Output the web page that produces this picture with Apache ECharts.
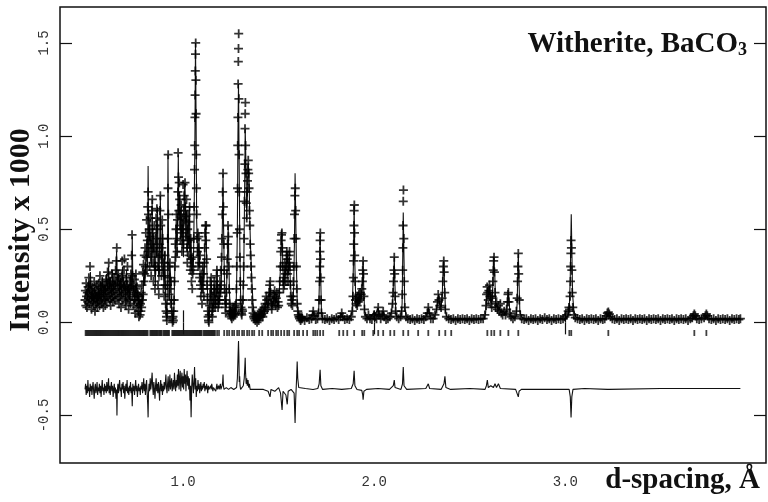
<!DOCTYPE html>
<html><head><meta charset="utf-8">
<script src="https://cdn.jsdelivr.net/npm/echarts@6/dist/echarts.min.js"></script>
<style>html,body{margin:0;padding:0;background:#fff}#c{width:768px;height:502px}</style>
</head><body><div id="c"></div>
<script>
const xTicks = [1.0, 2.0, 3.0];
const yTicks = [-0.5, 0.0, 0.5, 1.0, 1.5];
const titleText = 'Witherite, BaCO';
const titleSub = '3';
const xTitle = 'd-spacing, Å';
const yTitle = 'Intensity x 1000';

// calculated profile [d, I/1000]
const calc = [
[0.487,0.14],[0.495,0.18],[0.500,0.12],[0.505,0.22],[0.510,0.15],[0.515,0.27],[0.520,0.13],[0.526,0.17],[0.531,0.11],[0.536,0.19],[0.542,0.14],[0.547,0.16],[0.552,0.10],[0.557,0.18],[0.563,0.13],[0.568,0.22],[0.573,0.15],[0.578,0.24],[0.584,0.14],[0.589,0.20],[0.594,0.16],[0.599,0.26],[0.605,0.17],[0.610,0.30],[0.615,0.18],[0.620,0.24],[0.626,0.15],[0.631,0.28],[0.636,0.17],[0.641,0.22],[0.647,0.19],[0.652,0.38],[0.657,0.20],[0.662,0.26],[0.668,0.16],[0.673,0.24],[0.678,0.14],[0.683,0.30],[0.689,0.18],[0.694,0.22],[0.699,0.12],[0.704,0.28],[0.710,0.15],[0.715,0.20],[0.720,0.12],[0.725,0.25],[0.731,0.18],[0.734,0.46],[0.738,0.16],[0.743,0.20],[0.748,0.10],[0.754,0.24],[0.759,0.13],[0.764,0.17],[0.769,0.08],[0.774,0.12],[0.780,0.06],[0.785,0.15],[0.790,0.10],[0.795,0.28],[0.800,0.20],[0.806,0.35],[0.810,0.45],[0.814,0.30],[0.817,0.84],[0.821,0.35],[0.826,0.55],[0.830,0.40],[0.835,0.30],[0.838,0.66],[0.842,0.35],[0.847,0.48],[0.851,0.30],[0.855,0.20],[0.859,0.55],[0.862,0.35],[0.866,0.62],[0.870,0.30],[0.874,0.22],[0.878,0.45],[0.881,0.68],[0.885,0.35],[0.889,0.28],[0.892,0.52],[0.896,0.30],[0.900,0.18],[0.904,0.38],[0.908,0.15],[0.912,0.05],[0.916,0.02],[0.919,0.40],[0.921,0.90],[0.924,0.40],[0.928,0.12],[0.932,0.30],[0.936,0.22],[0.940,0.08],[0.944,0.03],[0.948,0.01],[0.952,0.08],[0.956,0.25],[0.960,0.40],[0.964,0.55],[0.968,0.35],[0.972,0.60],[0.975,0.90],[0.978,0.55],[0.982,0.70],[0.986,0.45],[0.990,0.62],[0.994,0.40],[0.998,0.55],[1.002,0.35],[1.006,0.70],[1.010,0.75],[1.014,0.45],[1.018,0.60],[1.022,0.35],[1.026,0.55],[1.030,0.40],[1.034,0.62],[1.038,0.30],[1.042,0.45],[1.046,0.25],[1.050,0.35],[1.054,0.30],[1.058,0.60],[1.062,1.00],[1.065,1.50],[1.068,1.10],[1.071,0.55],[1.075,0.40],[1.079,0.30],[1.083,0.45],[1.087,0.30],[1.091,0.20],[1.095,0.25],[1.099,0.15],[1.104,0.30],[1.108,0.20],[1.112,0.30],[1.116,0.50],[1.120,0.52],[1.124,0.30],[1.128,0.15],[1.132,0.06],[1.136,0.02],[1.140,0.08],[1.144,0.15],[1.148,0.22],[1.152,0.10],[1.156,0.05],[1.160,0.10],[1.165,0.20],[1.170,0.10],[1.175,0.15],[1.178,0.28],[1.182,0.15],[1.186,0.10],[1.190,0.12],[1.194,0.20],[1.198,0.15],[1.202,0.30],[1.206,0.55],[1.209,0.80],[1.212,0.50],[1.216,0.25],[1.220,0.12],[1.224,0.08],[1.228,0.20],[1.232,0.35],[1.236,0.52],[1.239,0.35],[1.243,0.15],[1.247,0.08],[1.251,0.05],[1.255,0.04],[1.259,0.06],[1.263,0.05],[1.267,0.04],[1.272,0.08],[1.277,0.06],[1.280,0.20],[1.284,0.50],[1.287,1.00],[1.290,1.28],[1.293,0.90],[1.297,0.40],[1.301,0.15],[1.305,0.06],[1.309,0.05],[1.313,0.10],[1.317,0.25],[1.321,0.60],[1.325,1.04],[1.329,0.85],[1.333,0.55],[1.337,0.70],[1.341,0.85],[1.345,0.80],[1.349,0.55],[1.353,0.40],[1.357,0.30],[1.361,0.20],[1.366,0.10],[1.372,0.05],[1.378,0.04],[1.382,0.02],[1.390,0.01],[1.398,0.02],[1.405,0.04],[1.412,0.05],[1.420,0.03],[1.427,0.06],[1.432,0.10],[1.437,0.12],[1.441,0.08],[1.447,0.10],[1.452,0.15],[1.456,0.20],[1.460,0.12],[1.465,0.08],[1.470,0.10],[1.475,0.12],[1.480,0.15],[1.485,0.10],[1.490,0.14],[1.495,0.08],[1.500,0.10],[1.505,0.20],[1.510,0.30],[1.514,0.45],[1.518,0.48],[1.522,0.30],[1.526,0.20],[1.530,0.22],[1.534,0.30],[1.538,0.25],[1.542,0.35],[1.545,0.38],[1.549,0.25],[1.553,0.30],[1.557,0.35],[1.561,0.22],[1.565,0.15],[1.570,0.12],[1.575,0.10],[1.579,0.20],[1.583,0.45],[1.586,0.80],[1.589,0.60],[1.593,0.30],[1.597,0.12],[1.602,0.05],[1.608,0.03],[1.615,0.02],[1.625,0.02],[1.635,0.015],[1.645,0.02],[1.655,0.03],[1.665,0.02],[1.675,0.03],[1.681,0.06],[1.687,0.03],[1.696,0.02],[1.705,0.03],[1.710,0.08],[1.714,0.25],[1.717,0.48],[1.720,0.25],[1.724,0.06],[1.730,0.02],[1.745,0.015],[1.760,0.015],[1.775,0.015],[1.790,0.02],[1.805,0.015],[1.820,0.03],[1.828,0.05],[1.834,0.03],[1.845,0.015],[1.860,0.02],[1.875,0.03],[1.885,0.06],[1.891,0.30],[1.895,0.63],[1.899,0.30],[1.904,0.10],[1.910,0.08],[1.915,0.12],[1.920,0.10],[1.925,0.14],[1.930,0.12],[1.935,0.15],[1.938,0.20],[1.942,0.33],[1.946,0.15],[1.950,0.06],[1.958,0.03],[1.966,0.04],[1.975,0.02],[1.985,0.02],[1.995,0.05],[2.001,0.03],[2.010,0.02],[2.021,0.08],[2.027,0.03],[2.040,0.03],[2.047,0.06],[2.053,0.03],[2.065,0.02],[2.080,0.03],[2.090,0.05],[2.097,0.12],[2.102,0.25],[2.105,0.35],[2.108,0.22],[2.113,0.05],[2.120,0.03],[2.130,0.02],[2.140,0.03],[2.146,0.10],[2.150,0.40],[2.152,0.59],[2.155,0.40],[2.160,0.08],[2.168,0.03],[2.180,0.02],[2.195,0.015],[2.210,0.02],[2.225,0.015],[2.240,0.02],[2.255,0.02],[2.270,0.03],[2.278,0.05],[2.283,0.08],[2.288,0.05],[2.300,0.02],[2.315,0.03],[2.325,0.06],[2.333,0.12],[2.337,0.15],[2.342,0.10],[2.350,0.08],[2.356,0.15],[2.361,0.30],[2.364,0.33],[2.368,0.20],[2.373,0.06],[2.380,0.03],[2.395,0.02],[2.410,0.018],[2.450,0.018],[2.500,0.018],[2.550,0.018],[2.575,0.02],[2.583,0.05],[2.590,0.15],[2.594,0.19],[2.600,0.14],[2.605,0.20],[2.610,0.12],[2.615,0.10],[2.621,0.20],[2.626,0.35],[2.631,0.25],[2.636,0.08],[2.642,0.10],[2.648,0.06],[2.655,0.08],[2.662,0.05],[2.670,0.04],[2.678,0.06],[2.685,0.04],[2.693,0.06],[2.698,0.12],[2.702,0.16],[2.706,0.10],[2.712,0.04],[2.720,0.03],[2.730,0.02],[2.742,0.03],[2.748,0.10],[2.752,0.30],[2.754,0.37],[2.757,0.25],[2.762,0.06],[2.770,0.03],[2.790,0.018],[2.850,0.018],[2.900,0.018],[2.950,0.018],[3.005,0.02],[3.015,0.04],[3.021,0.08],[3.026,0.25],[3.029,0.45],[3.031,0.58],[3.034,0.40],[3.038,0.15],[3.045,0.06],[3.055,0.03],[3.070,0.02],[3.150,0.018],[3.210,0.02],[3.218,0.04],[3.225,0.05],[3.232,0.04],[3.245,0.02],[3.400,0.018],[3.600,0.018],[3.665,0.02],[3.672,0.04],[3.677,0.035],[3.690,0.02],[3.730,0.025],[3.738,0.04],[3.745,0.025],[3.760,0.018],[3.916,0.018]
];

// observed points [d, I/1000]
const observed = [
[0.487,0.12],[0.489,0.17],[0.491,0.09],[0.493,0.21],[0.495,0.14],[0.497,0.08],[0.499,0.16],[0.501,0.11],[0.503,0.19],[0.505,0.13],[0.507,0.24],[0.509,0.10],[0.511,0.15],[0.513,0.30],[0.515,0.20],[0.517,0.12],[0.519,0.17],[0.521,0.07],[0.523,0.14],[0.525,0.19],[0.527,0.11],[0.529,0.16],[0.531,0.09],[0.533,0.13],[0.535,0.22],[0.537,0.15],[0.539,0.06],[0.541,0.12],[0.543,0.18],[0.545,0.10],[0.547,0.14],[0.549,0.20],[0.551,0.08],[0.553,0.13],[0.555,0.17],[0.557,0.11],[0.559,0.21],[0.561,0.15],[0.563,0.09],[0.565,0.25],[0.567,0.14],[0.569,0.19],[0.571,0.12],[0.573,0.16],[0.575,0.10],[0.577,0.22],[0.579,0.13],[0.581,0.18],[0.583,0.08],[0.585,0.15],[0.587,0.20],[0.589,0.12],[0.591,0.17],[0.593,0.09],[0.595,0.14],[0.597,0.23],[0.599,0.16],[0.601,0.11],[0.603,0.19],[0.605,0.27],[0.607,0.14],[0.609,0.20],[0.611,0.32],[0.613,0.17],[0.615,0.12],[0.617,0.22],[0.619,0.15],[0.621,0.09],[0.623,0.18],[0.625,0.13],[0.627,0.26],[0.629,0.16],[0.631,0.21],[0.633,0.11],[0.635,0.18],[0.637,0.14],[0.639,0.24],[0.641,0.17],[0.643,0.12],[0.645,0.20],[0.647,0.28],[0.649,0.15],[0.651,0.33],[0.653,0.40],[0.655,0.22],[0.657,0.18],[0.659,0.13],[0.661,0.26],[0.663,0.19],[0.665,0.10],[0.667,0.16],[0.669,0.23],[0.671,0.14],[0.673,0.20],[0.675,0.08],[0.677,0.15],[0.679,0.25],[0.681,0.33],[0.683,0.18],[0.685,0.12],[0.687,0.22],[0.689,0.16],[0.691,0.28],[0.693,0.34],[0.695,0.19],[0.697,0.11],[0.699,0.17],[0.701,0.09],[0.703,0.24],[0.705,0.14],[0.707,0.20],[0.709,0.30],[0.711,0.13],[0.713,0.18],[0.715,0.07],[0.717,0.15],[0.719,0.22],[0.721,0.12],[0.723,0.17],[0.725,0.10],[0.727,0.26],[0.729,0.19],[0.731,0.36],[0.733,0.47],[0.735,0.25],[0.737,0.14],[0.739,0.20],[0.741,0.09],[0.743,0.16],[0.745,0.23],[0.747,0.12],[0.749,0.05],[0.751,0.18],[0.753,0.26],[0.755,0.14],[0.757,0.08],[0.759,0.19],[0.761,0.11],[0.763,0.15],[0.765,0.06],[0.767,0.12],[0.769,0.03],[0.771,0.09],[0.773,0.14],[0.775,0.04],[0.777,0.10],[0.779,0.06],[0.781,0.16],[0.783,0.08],[0.785,0.20],[0.787,0.12],[0.789,0.27],[0.791,0.15],[0.793,0.31],[0.795,0.22],[0.797,0.36],[0.799,0.26],[0.801,0.40],[0.803,0.30],[0.805,0.48],[0.807,0.35],[0.809,0.55],[0.811,0.28],[0.813,0.44],[0.815,0.62],[0.817,0.70],[0.819,0.58],[0.821,0.38],[0.823,0.50],[0.825,0.30],[0.827,0.46],[0.829,0.56],[0.831,0.35],[0.833,0.25],[0.835,0.42],[0.837,0.60],[0.839,0.66],[0.841,0.48],[0.843,0.32],[0.845,0.22],[0.847,0.40],[0.849,0.52],[0.851,0.30],[0.853,0.18],[0.855,0.28],[0.857,0.45],[0.859,0.56],[0.861,0.38],[0.863,0.61],[0.865,0.50],[0.867,0.30],[0.869,0.20],[0.871,0.35],[0.873,0.15],[0.875,0.28],[0.877,0.42],[0.879,0.60],[0.881,0.68],[0.883,0.52],[0.885,0.36],[0.887,0.25],[0.889,0.40],[0.891,0.55],[0.893,0.45],[0.895,0.28],[0.897,0.18],[0.899,0.32],[0.901,0.14],[0.903,0.25],[0.905,0.36],[0.907,0.20],[0.909,0.10],[0.911,0.06],[0.913,0.03],[0.915,0.01],[0.917,0.05],[0.919,0.20],[0.920,0.45],[0.921,0.72],[0.922,0.90],[0.923,0.58],[0.925,0.30],[0.927,0.15],[0.929,0.24],[0.931,0.32],[0.933,0.18],[0.935,0.10],[0.937,0.22],[0.939,0.12],[0.941,0.06],[0.943,0.02],[0.945,0.00],[0.947,0.03],[0.949,0.01],[0.951,0.06],[0.953,0.12],[0.955,0.22],[0.957,0.30],[0.959,0.42],[0.961,0.35],[0.963,0.50],[0.965,0.58],[0.967,0.45],[0.969,0.38],[0.971,0.55],[0.973,0.70],[0.974,0.91],[0.976,0.78],[0.978,0.60],[0.980,0.75],[0.982,0.66],[0.984,0.52],[0.986,0.44],[0.988,0.58],[0.990,0.63],[0.992,0.48],[0.994,0.38],[0.996,0.50],[0.998,0.56],[1.000,0.74],[1.002,0.42],[1.004,0.60],[1.006,0.68],[1.008,0.55],[1.010,0.75],[1.012,0.62],[1.014,0.46],[1.016,0.57],[1.018,0.66],[1.020,0.40],[1.022,0.32],[1.024,0.50],[1.026,0.58],[1.028,0.44],[1.030,0.36],[1.032,0.54],[1.034,0.62],[1.036,0.40],[1.038,0.28],[1.040,0.45],[1.042,0.34],[1.044,0.22],[1.046,0.30],[1.048,0.18],[1.050,0.26],[1.052,0.35],[1.054,0.28],[1.056,0.45],[1.058,0.62],[1.060,0.82],[1.061,0.95],[1.062,1.10],[1.063,1.22],[1.064,1.35],[1.065,1.44],[1.066,1.50],[1.067,1.30],[1.068,1.12],[1.069,0.90],[1.070,0.72],[1.071,0.58],[1.073,0.45],[1.075,0.38],[1.077,0.48],[1.079,0.30],[1.081,0.40],[1.083,0.46],[1.085,0.32],[1.087,0.24],[1.089,0.36],[1.091,0.20],[1.093,0.14],[1.095,0.26],[1.097,0.18],[1.099,0.10],[1.101,0.22],[1.103,0.30],[1.105,0.18],[1.107,0.26],[1.109,0.14],[1.111,0.32],[1.113,0.40],[1.115,0.48],[1.117,0.52],[1.119,0.44],[1.121,0.52],[1.123,0.34],[1.125,0.20],[1.127,0.12],[1.129,0.06],[1.131,0.03],[1.133,0.01],[1.135,0.00],[1.137,0.04],[1.139,0.09],[1.141,0.15],[1.143,0.22],[1.145,0.18],[1.147,0.24],[1.149,0.12],[1.151,0.06],[1.153,0.03],[1.155,0.08],[1.157,0.14],[1.159,0.10],[1.161,0.18],[1.163,0.22],[1.165,0.12],[1.167,0.08],[1.169,0.16],[1.171,0.10],[1.173,0.20],[1.175,0.25],[1.177,0.28],[1.179,0.18],[1.181,0.12],[1.183,0.08],[1.185,0.14],[1.187,0.10],[1.189,0.18],[1.191,0.12],[1.193,0.22],[1.195,0.16],[1.197,0.28],[1.199,0.20],[1.201,0.35],[1.203,0.45],[1.205,0.58],[1.207,0.70],[1.209,0.80],[1.211,0.62],[1.213,0.42],[1.215,0.28],[1.217,0.18],[1.219,0.12],[1.221,0.08],[1.223,0.05],[1.225,0.10],[1.227,0.16],[1.229,0.26],[1.231,0.34],[1.233,0.42],[1.235,0.52],[1.237,0.46],[1.239,0.30],[1.241,0.18],[1.243,0.10],[1.245,0.06],[1.247,0.04],[1.249,0.06],[1.251,0.03],[1.253,0.05],[1.255,0.02],[1.257,0.06],[1.259,0.04],[1.261,0.07],[1.263,0.03],[1.265,0.05],[1.267,0.08],[1.269,0.04],[1.271,0.06],[1.273,0.09],[1.275,0.05],[1.277,0.10],[1.279,0.18],[1.281,0.30],[1.283,0.48],[1.285,0.72],[1.286,0.95],[1.287,1.10],[1.288,1.28],[1.289,1.40],[1.290,1.47],[1.291,1.55],[1.292,1.20],[1.293,0.90],[1.294,0.70],[1.295,0.50],[1.297,0.35],[1.299,0.22],[1.301,0.12],[1.303,0.08],[1.305,0.05],[1.307,0.04],[1.309,0.07],[1.311,0.06],[1.313,0.12],[1.315,0.20],[1.317,0.30],[1.319,0.45],[1.321,0.65],[1.323,0.85],[1.324,1.04],[1.325,1.12],[1.326,1.18],[1.327,0.95],[1.329,0.80],[1.331,0.64],[1.333,0.56],[1.335,0.70],[1.337,0.76],[1.339,0.82],[1.341,0.87],[1.343,0.80],[1.345,0.72],[1.347,0.60],[1.349,0.52],[1.351,0.42],[1.353,0.36],[1.355,0.30],[1.357,0.24],[1.359,0.18],[1.361,0.12],[1.363,0.08],[1.366,0.05],[1.369,0.03],[1.372,0.02],[1.375,0.04],[1.378,0.01],[1.381,0.03],[1.384,0.02],[1.387,0.00],[1.390,0.02],[1.393,0.04],[1.396,0.01],[1.399,0.03],[1.402,0.05],[1.405,0.03],[1.408,0.06],[1.411,0.04],[1.414,0.07],[1.417,0.03],[1.420,0.05],[1.423,0.08],[1.426,0.06],[1.429,0.10],[1.432,0.08],[1.435,0.14],[1.438,0.12],[1.441,0.07],[1.444,0.10],[1.447,0.13],[1.450,0.16],[1.453,0.20],[1.456,0.22],[1.458,0.16],[1.461,0.10],[1.464,0.07],[1.467,0.09],[1.470,0.12],[1.473,0.15],[1.476,0.11],[1.479,0.17],[1.482,0.14],[1.485,0.09],[1.488,0.13],[1.491,0.16],[1.494,0.08],[1.497,0.11],[1.500,0.09],[1.503,0.16],[1.506,0.22],[1.509,0.30],[1.511,0.38],[1.513,0.44],[1.515,0.47],[1.517,0.48],[1.519,0.40],[1.521,0.30],[1.523,0.22],[1.525,0.18],[1.527,0.24],[1.529,0.20],[1.531,0.28],[1.533,0.32],[1.535,0.26],[1.537,0.22],[1.539,0.30],[1.541,0.36],[1.543,0.38],[1.545,0.34],[1.547,0.26],[1.549,0.22],[1.551,0.28],[1.553,0.32],[1.555,0.36],[1.557,0.38],[1.559,0.30],[1.561,0.20],[1.563,0.14],[1.566,0.10],[1.569,0.12],[1.572,0.09],[1.575,0.14],[1.577,0.22],[1.579,0.30],[1.581,0.45],[1.583,0.58],[1.585,0.68],[1.587,0.72],[1.589,0.60],[1.591,0.45],[1.593,0.30],[1.595,0.18],[1.597,0.10],[1.600,0.06],[1.603,0.04],[1.606,0.03],[1.609,0.02],[1.612,0.03],[1.615,0.01],[1.618,0.02],[1.621,0.03],
[1.624,0.02],[1.636,0.01],[1.648,0.025],[1.660,0.015],[1.672,0.02],[1.678,0.04],[1.681,0.06],[1.685,0.035],[1.694,0.015],[1.703,0.02],[1.709,0.05],[1.712,0.12],[1.714,0.22],[1.715,0.30],[1.716,0.38],[1.717,0.44],[1.718,0.48],[1.719,0.34],[1.720,0.24],[1.722,0.12],[1.724,0.05],[1.730,0.02],[1.742,0.015],[1.754,0.02],[1.766,0.01],[1.778,0.02],[1.790,0.015],[1.802,0.025],[1.814,0.015],[1.824,0.03],[1.830,0.05],[1.836,0.03],[1.846,0.015],[1.858,0.02],[1.870,0.015],[1.880,0.03],[1.886,0.06],[1.889,0.14],[1.891,0.24],[1.892,0.33],[1.893,0.42],[1.894,0.52],[1.895,0.60],[1.896,0.63],[1.897,0.48],[1.898,0.36],[1.900,0.22],[1.902,0.12],[1.905,0.10],[1.908,0.13],[1.911,0.09],[1.914,0.14],[1.917,0.11],[1.920,0.15],[1.923,0.12],[1.926,0.16],[1.929,0.13],[1.932,0.15],[1.935,0.18],[1.938,0.22],[1.940,0.28],[1.942,0.33],[1.944,0.26],[1.946,0.14],[1.949,0.07],[1.954,0.03],[1.962,0.02],[1.970,0.04],[1.978,0.02],[1.988,0.015],[1.998,0.04],[2.004,0.03],[2.012,0.02],[2.018,0.05],[2.021,0.08],[2.025,0.04],[2.034,0.02],[2.043,0.04],[2.047,0.06],[2.052,0.03],[2.062,0.015],[2.072,0.02],[2.082,0.03],[2.090,0.05],[2.096,0.10],[2.099,0.16],[2.101,0.22],[2.103,0.28],[2.105,0.35],[2.107,0.26],[2.109,0.14],[2.112,0.06],[2.118,0.03],[2.128,0.02],[2.138,0.03],[2.144,0.06],[2.147,0.15],[2.149,0.28],[2.150,0.40],[2.151,0.52],[2.152,0.65],[2.153,0.71],[2.155,0.45],[2.157,0.22],[2.160,0.08],[2.166,0.03],[2.176,0.02],[2.188,0.015],[2.200,0.02],[2.212,0.01],[2.224,0.02],[2.236,0.015],[2.248,0.02],[2.260,0.015],[2.270,0.03],[2.278,0.05],[2.283,0.08],[2.288,0.05],[2.296,0.02],[2.308,0.02],[2.318,0.04],[2.326,0.07],[2.331,0.11],[2.335,0.15],[2.339,0.12],[2.344,0.09],[2.350,0.08],[2.355,0.13],[2.359,0.22],[2.362,0.30],[2.364,0.33],[2.366,0.27],[2.369,0.16],[2.372,0.07],[2.378,0.03],[2.390,0.02],[2.402,0.015],[2.414,0.02],[2.426,0.01],[2.438,0.02],[2.450,0.015],[2.462,0.02],[2.474,0.015],[2.486,0.02],[2.498,0.01],[2.510,0.02],[2.522,0.015],[2.534,0.02],[2.546,0.015],[2.558,0.02],[2.570,0.02],[2.579,0.04],[2.585,0.09],[2.588,0.15],[2.591,0.19],[2.594,0.16],[2.597,0.12],[2.600,0.17],[2.603,0.20],[2.606,0.14],[2.609,0.10],[2.612,0.13],[2.615,0.08],[2.618,0.14],[2.621,0.22],[2.623,0.28],[2.625,0.33],[2.627,0.35],[2.629,0.27],[2.632,0.16],[2.635,0.08],[2.640,0.11],[2.645,0.07],[2.650,0.09],[2.655,0.06],[2.660,0.10],[2.665,0.05],[2.672,0.04],[2.680,0.06],[2.687,0.04],[2.693,0.07],[2.697,0.11],[2.700,0.15],[2.702,0.16],[2.705,0.11],[2.709,0.05],[2.716,0.03],[2.726,0.02],[2.736,0.03],[2.744,0.06],[2.748,0.13],[2.750,0.22],[2.752,0.30],[2.754,0.37],[2.756,0.26],[2.759,0.12],[2.764,0.04],[2.772,0.02],[2.784,0.015],[2.796,0.02],[2.808,0.01],[2.820,0.02],[2.832,0.015],[2.844,0.02],[2.856,0.01],[2.868,0.02],[2.880,0.015],[2.892,0.025],[2.904,0.015],[2.916,0.02],[2.928,0.01],[2.940,0.02],[2.952,0.015],[2.964,0.02],[2.976,0.015],[2.988,0.02],[2.998,0.03],[3.008,0.04],[3.015,0.06],[3.019,0.08],[3.022,0.07],[3.025,0.14],[3.027,0.22],[3.028,0.30],[3.029,0.37],[3.030,0.44],[3.032,0.40],[3.034,0.28],[3.036,0.16],[3.039,0.08],[3.044,0.04],[3.052,0.025],[3.064,0.02],[3.076,0.015],[3.088,0.02],[3.100,0.01],[3.112,0.02],[3.124,0.015],[3.136,0.02],[3.148,0.015],[3.160,0.02],[3.172,0.01],[3.184,0.02],[3.196,0.015],[3.206,0.02],[3.214,0.035],[3.220,0.05],[3.225,0.055],[3.230,0.045],[3.236,0.03],[3.246,0.02],[3.258,0.015],[3.270,0.02],[3.282,0.01],[3.294,0.02],[3.306,0.015],[3.318,0.02],[3.330,0.015],[3.342,0.02],[3.354,0.01],[3.366,0.02],[3.378,0.015],[3.390,0.02],[3.402,0.015],[3.414,0.02],[3.426,0.01],[3.438,0.02],[3.450,0.015],[3.462,0.02],[3.474,0.015],[3.486,0.02],[3.498,0.01],[3.510,0.02],[3.522,0.015],[3.534,0.02],[3.546,0.015],[3.558,0.02],[3.570,0.01],[3.582,0.02],[3.594,0.015],[3.606,0.02],[3.618,0.015],[3.630,0.02],[3.642,0.01],[3.654,0.02],[3.664,0.025],[3.670,0.035],[3.675,0.045],[3.680,0.035],[3.688,0.02],[3.700,0.015],[3.712,0.02],[3.726,0.025],[3.733,0.035],[3.738,0.045],[3.743,0.035],[3.752,0.02],[3.764,0.015],[3.776,0.02],[3.788,0.01],[3.800,0.02],[3.812,0.015],[3.824,0.02],[3.836,0.015],[3.848,0.02],[3.860,0.01],[3.872,0.02],[3.884,0.015],[3.896,0.02],[3.908,0.015],[3.916,0.02]
];

// difference curve as plotted (offset below the pattern)
const difference = [
[0.487,-0.36],[0.490,-0.33],[0.493,-0.39],[0.496,-0.34],[0.499,-0.38],[0.502,-0.31],[0.505,-0.37],[0.508,-0.35],[0.511,-0.40],[0.514,-0.33],[0.517,-0.37],[0.520,-0.34],[0.523,-0.39],[0.526,-0.35],[0.529,-0.32],[0.532,-0.37],[0.535,-0.41],[0.538,-0.35],[0.541,-0.33],[0.544,-0.38],[0.547,-0.36],[0.550,-0.32],[0.553,-0.39],[0.556,-0.35],[0.559,-0.37],[0.562,-0.33],[0.565,-0.38],[0.568,-0.34],[0.571,-0.40],[0.574,-0.35],[0.577,-0.31],[0.580,-0.37],[0.583,-0.35],[0.586,-0.39],[0.589,-0.33],[0.592,-0.37],[0.595,-0.34],[0.598,-0.38],[0.601,-0.32],[0.604,-0.37],[0.607,-0.35],[0.610,-0.30],[0.613,-0.38],[0.616,-0.34],[0.619,-0.39],[0.622,-0.35],[0.625,-0.32],[0.628,-0.37],[0.631,-0.34],[0.634,-0.40],[0.637,-0.36],[0.640,-0.33],[0.643,-0.38],[0.646,-0.35],[0.649,-0.41],[0.652,-0.36],[0.654,-0.50],[0.656,-0.37],[0.659,-0.33],[0.662,-0.38],[0.665,-0.34],[0.668,-0.31],[0.671,-0.37],[0.674,-0.35],[0.677,-0.40],[0.680,-0.33],[0.683,-0.36],[0.686,-0.32],[0.689,-0.38],[0.692,-0.34],[0.695,-0.41],[0.698,-0.36],[0.701,-0.33],[0.704,-0.37],[0.707,-0.31],[0.710,-0.38],[0.713,-0.35],[0.716,-0.39],[0.719,-0.34],[0.722,-0.37],[0.725,-0.32],[0.728,-0.38],[0.731,-0.35],[0.734,-0.45],[0.737,-0.33],[0.740,-0.37],[0.743,-0.34],[0.746,-0.39],[0.749,-0.35],[0.752,-0.31],[0.755,-0.37],[0.758,-0.34],[0.761,-0.40],[0.764,-0.36],[0.767,-0.33],[0.770,-0.37],[0.773,-0.35],[0.776,-0.39],[0.779,-0.34],[0.782,-0.36],[0.785,-0.32],[0.788,-0.38],[0.791,-0.35],[0.794,-0.30],[0.797,-0.37],[0.800,-0.33],[0.803,-0.39],[0.806,-0.34],[0.809,-0.31],[0.812,-0.38],[0.815,-0.44],[0.817,-0.51],[0.819,-0.38],[0.822,-0.33],[0.825,-0.37],[0.828,-0.30],[0.831,-0.36],[0.834,-0.33],[0.838,-0.27],[0.841,-0.35],[0.844,-0.39],[0.847,-0.32],[0.850,-0.36],[0.853,-0.41],[0.856,-0.34],[0.859,-0.30],[0.862,-0.37],[0.865,-0.33],[0.868,-0.38],[0.871,-0.32],[0.874,-0.36],[0.877,-0.42],[0.880,-0.34],[0.883,-0.31],[0.886,-0.37],[0.889,-0.33],[0.892,-0.39],[0.895,-0.34],[0.898,-0.37],[0.901,-0.32],[0.904,-0.36],[0.907,-0.33],[0.910,-0.28],[0.913,-0.35],[0.916,-0.38],[0.919,-0.33],[0.922,-0.29],[0.925,-0.37],[0.928,-0.34],[0.931,-0.28],[0.934,-0.36],[0.937,-0.33],[0.940,-0.30],[0.943,-0.37],[0.946,-0.34],[0.949,-0.31],[0.952,-0.36],[0.955,-0.27],[0.958,-0.33],[0.961,-0.37],[0.964,-0.31],[0.967,-0.35],[0.970,-0.28],[0.973,-0.34],[0.976,-0.25],[0.979,-0.36],[0.982,-0.30],[0.985,-0.26],[0.988,-0.37],[0.991,-0.31],[0.994,-0.27],[0.997,-0.35],[1.000,-0.29],[1.003,-0.36],[1.006,-0.25],[1.009,-0.33],[1.012,-0.28],[1.015,-0.37],[1.018,-0.30],[1.021,-0.26],[1.024,-0.34],[1.027,-0.29],[1.030,-0.36],[1.033,-0.30],[1.036,-0.42],[1.039,-0.34],[1.042,-0.51],[1.045,-0.35],[1.048,-0.28],[1.051,-0.33],[1.054,-0.38],[1.057,-0.32],[1.060,-0.24],[1.063,-0.36],[1.066,-0.30],[1.069,-0.40],[1.072,-0.34],[1.075,-0.37],[1.078,-0.31],[1.081,-0.36],[1.084,-0.33],[1.087,-0.38],[1.090,-0.35],[1.093,-0.32],[1.096,-0.37],[1.099,-0.34],[1.102,-0.36],[1.105,-0.33],[1.108,-0.35],[1.111,-0.32],[1.114,-0.37],[1.117,-0.34],[1.120,-0.36],[1.123,-0.33],[1.126,-0.35],[1.129,-0.38],[1.132,-0.34],[1.135,-0.36],[1.138,-0.35],[1.141,-0.37],[1.144,-0.34],[1.147,-0.36],[1.150,-0.33],[1.153,-0.35],[1.156,-0.37],[1.159,-0.35],[1.162,-0.34],[1.165,-0.36],[1.168,-0.35],[1.171,-0.37],[1.174,-0.35],[1.177,-0.33],[1.180,-0.36],[1.183,-0.35],[1.186,-0.34],[1.189,-0.36],[1.192,-0.35],[1.195,-0.33],[1.198,-0.36],[1.201,-0.35],[1.204,-0.34],[1.207,-0.32],[1.209,-0.28],[1.211,-0.34],[1.214,-0.36],[1.218,-0.35],[1.222,-0.36],[1.226,-0.35],[1.230,-0.34],[1.234,-0.35],[1.238,-0.36],[1.242,-0.35],[1.246,-0.36],[1.250,-0.35],[1.255,-0.36],[1.260,-0.35],[1.265,-0.36],[1.270,-0.35],[1.275,-0.36],[1.280,-0.35],[1.284,-0.30],[1.287,-0.20],[1.290,-0.10],[1.292,-0.18],[1.294,-0.32],[1.296,-0.29],[1.298,-0.34],[1.301,-0.36],[1.305,-0.35],[1.310,-0.36],[1.315,-0.34],[1.320,-0.30],[1.323,-0.24],[1.325,-0.19],[1.327,-0.27],[1.330,-0.33],[1.333,-0.30],[1.336,-0.34],[1.340,-0.31],[1.343,-0.35],[1.347,-0.33],[1.351,-0.36],[1.356,-0.35],[1.362,-0.36],[1.370,-0.35],[1.380,-0.36],[1.390,-0.35],[1.400,-0.36],[1.410,-0.355],[1.420,-0.36],[1.430,-0.35],[1.445,-0.37],[1.455,-0.40],[1.460,-0.36],[1.470,-0.35],[1.480,-0.37],[1.490,-0.36],[1.500,-0.35],[1.510,-0.38],[1.518,-0.47],[1.523,-0.37],[1.530,-0.36],[1.538,-0.39],[1.545,-0.44],[1.550,-0.37],[1.558,-0.38],[1.565,-0.36],[1.575,-0.35],[1.581,-0.38],[1.586,-0.54],[1.589,-0.42],[1.594,-0.30],[1.597,-0.21],[1.600,-0.30],[1.605,-0.35],[1.615,-0.36],[1.640,-0.355],[1.680,-0.36],[1.705,-0.355],[1.712,-0.33],[1.717,-0.255],[1.721,-0.34],[1.730,-0.36],[1.780,-0.355],[1.830,-0.36],[1.880,-0.355],[1.890,-0.33],[1.895,-0.26],[1.899,-0.34],[1.910,-0.36],[1.935,-0.365],[1.940,-0.39],[1.942,-0.415],[1.946,-0.37],[1.960,-0.36],[2.020,-0.355],[2.080,-0.36],[2.100,-0.34],[2.105,-0.31],[2.109,-0.35],[2.140,-0.36],[2.148,-0.33],[2.152,-0.24],[2.156,-0.34],[2.170,-0.36],[2.270,-0.355],[2.283,-0.33],[2.290,-0.355],[2.350,-0.36],[2.365,-0.33],[2.370,-0.29],[2.375,-0.35],[2.400,-0.36],[2.500,-0.355],[2.580,-0.36],[2.587,-0.34],[2.592,-0.31],[2.597,-0.35],[2.610,-0.34],[2.618,-0.33],[2.624,-0.35],[2.632,-0.33],[2.640,-0.35],[2.650,-0.33],[2.660,-0.355],[2.740,-0.36],[2.750,-0.37],[2.754,-0.40],[2.758,-0.37],[2.770,-0.36],[2.900,-0.36],[3.020,-0.36],[3.026,-0.40],[3.030,-0.51],[3.034,-0.40],[3.040,-0.36],[3.100,-0.355],[3.220,-0.36],[3.225,-0.37],[3.232,-0.36],[3.500,-0.355],[3.916,-0.355]
];

// reflection positions (d)
const reflections = [
0.490,0.495,0.500,0.505,0.510,0.515,0.520,0.525,0.530,0.535,0.540,0.545,0.550,0.555,0.560,0.565,0.570,0.575,0.580,0.585,0.590,0.595,0.600,0.605,0.610,0.615,0.620,0.625,0.630,0.635,0.640,0.645,0.650,0.655,0.660,0.665,0.670,0.675,0.680,0.685,0.690,0.695,0.700,0.705,0.710,0.715,0.720,0.725,0.730,0.735,0.740,0.745,0.750,0.755,0.760,0.765,0.770,0.775,0.780,0.785,0.790,0.795,0.800,0.805,0.810,0.815,
0.828,0.833,0.838,0.843,0.848,0.853,0.858,0.863,0.868,0.874,0.879,0.884,0.888,
0.897,0.902,0.907,0.912,0.917,0.922,0.927,
0.943,0.948,0.953,0.958,0.963,0.968,0.973,0.978,0.983,0.988,0.993,0.998,1.003,1.008,1.013,1.018,1.023,1.028,1.033,1.038,1.043,1.048,1.053,1.058,1.063,1.068,1.073,1.078,1.083,1.088,1.093,1.097,
1.107,1.112,1.117,1.122,1.127,1.132,1.137,1.142,1.147,1.152,1.157,1.162,1.167,
1.178,1.188,1.215,1.230,1.241,1.257,1.267,1.283,1.293,1.309,1.319,1.335,1.346,1.361,1.372,1.398,1.414,1.445,1.461,1.471,1.487,1.497,1.513,1.529,1.545,1.555,1.581,1.597,1.607,1.628,1.649,1.681,1.691,1.702,1.717,1.733,1.817,1.838,1.859,1.895,1.937,1.948,1.995,2.021,2.047,2.084,2.105,2.152,2.178,2.230,2.283,2.340,2.372,2.403,2.592,2.613,2.628,2.660,2.702,2.754,3.021,3.031,3.225,3.675,3.738
];
const reflectionLevel = -0.057;

const chart = echarts.init(document.getElementById('c'), null, {renderer: 'canvas'});
const mono = '"Liberation Mono", "DejaVu Sans Mono", monospace';
const serif = '"Liberation Serif", "DejaVu Serif", serif';
const plus = 'path://M4,0H6V4H10V6H6V10H4V6H0V4H4Z';

chart.setOption({
  animation: false,
  backgroundColor: '#ffffff',
  grid: {left: 60, right: 2, top: 7, bottom: 39, show: true, borderColor: '#111', borderWidth: 1.5, backgroundColor: 'transparent'},
  title: {
    text: '{a|' + titleText + '}{b|' + titleSub + '}',
    right: 16, top: 25,
    textStyle: {rich: {
      a: {fontFamily: serif, fontWeight: 'bold', fontSize: 29, color: '#111'},
      b: {fontFamily: serif, fontWeight: 'bold', fontSize: 18, color: '#111', verticalAlign: 'bottom', padding: [9,0,0,0]}
    }}
  },
  graphic: [
    {type: 'text', x: 760, y: 481, style: {text: xTitle, font: 'bold 29px ' + serif, fill: '#111', align: 'right', verticalAlign: 'middle', textAlign: 'right', textVerticalAlign: 'middle'}},
    {type: 'text', x: 21, y: 230, rotation: Math.PI / 2, style: {text: yTitle, font: 'bold 30px ' + serif, fill: '#111', align: 'center', verticalAlign: 'middle', textAlign: 'center', textVerticalAlign: 'middle'}}
  ],
  xAxis: [
    {type: 'value', min: 0.356, max: 4.05, position: 'bottom',
     axisLine: {show: false}, splitLine: {show: false},
     axisTick: {show: true, inside: true, length: 12, customValues: xTicks, lineStyle: {color: '#111', width: 1.2}},
     axisLabel: {show: true, customValues: xTicks, formatter: v => v.toFixed(1), fontFamily: mono, fontSize: 14, color: '#333', margin: 12}},
    {type: 'value', min: 0.356, max: 4.05, position: 'top',
     axisLine: {show: false}, splitLine: {show: false},
     axisTick: {show: true, inside: true, length: 12, customValues: xTicks, lineStyle: {color: '#111', width: 1.2}},
     axisLabel: {show: false}}
  ],
  yAxis: [
    {type: 'value', min: -0.755, max: 1.693, position: 'left',
     axisLine: {show: false}, splitLine: {show: false},
     axisTick: {show: true, inside: true, length: 12, customValues: yTicks, lineStyle: {color: '#111', width: 1.2}},
     axisLabel: {show: true, customValues: yTicks, rotate: 90, formatter: v => v.toFixed(1), fontFamily: mono, fontSize: 14, color: '#333', margin: 9}},
    {type: 'value', min: -0.755, max: 1.693, position: 'right',
     axisLine: {show: false}, splitLine: {show: false},
     axisTick: {show: true, inside: true, length: 12, customValues: yTicks, lineStyle: {color: '#111', width: 1.2}},
     axisLabel: {show: false}}
  ],
  series: [
    {name: 'calc', type: 'line', data: calc, showSymbol: false, symbol: 'none', lineStyle: {color: '#111', width: 1.1}, z: 2},
    {name: 'obs', type: 'scatter', data: observed, symbol: plus, symbolSize: 9, itemStyle: {color: '#000'}, z: 3},
    {name: 'diff', type: 'line', data: difference, showSymbol: false, symbol: 'none', lineStyle: {color: '#111', width: 1.1}, z: 2},
    {name: 'refl', type: 'scatter', data: reflections.map(d => [d, reflectionLevel]), symbol: 'rect', symbolSize: [1.8, 6], itemStyle: {color: '#111'}, z: 2}
  ]
});
</script>
</body></html>
